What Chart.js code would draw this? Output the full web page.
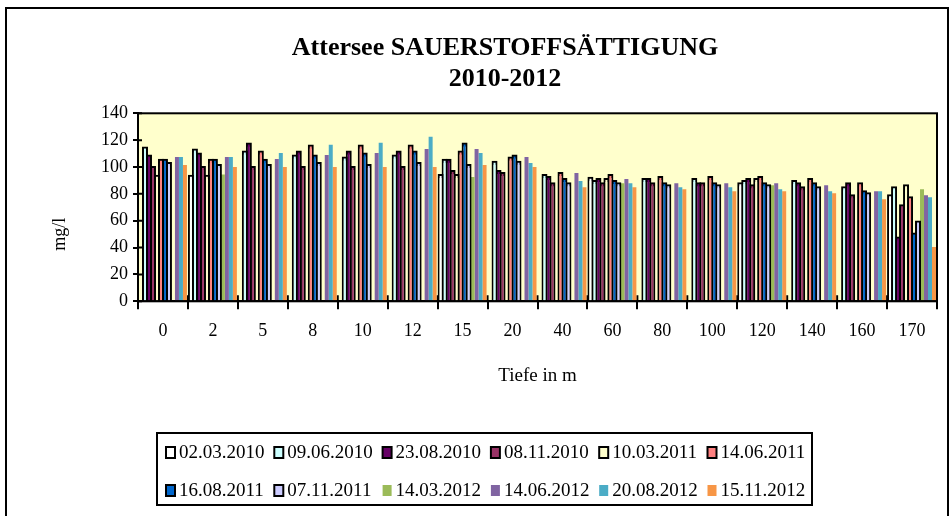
<!DOCTYPE html>
<html>
<head>
<meta charset="utf-8">
<script src="https://cdn.jsdelivr.net/npm/chart.js@4.4.1/dist/chart.umd.min.js"></script>
<style>
  html, body { margin: 0; padding: 0; background: #fff; }
  #wrap { width: 952px; height: 516px; }
</style>
</head>
<body>
<div id="wrap"><canvas id="oxygenChart" width="952" height="516"></canvas></div>
<script>
// depth categories (m)
const depths = ['0', '2', '5', '8', '10', '12', '15', '20', '40', '60', '80', '100', '120', '140', '160', '170'];

// oxygen saturation per sampling date (null = no bar)
const mar2010 = [null, 93.5, null, null, null, null, 94, null, null, 92, null, null, 88, null, null, 79];
const jun2010 = [114.5, 113, 111.5, 108.5, 107, 108.5, 105.5, 104, 94, 89.5, 91, 91, 89.5, 89.5, 85, 85];
const aug2010 = [108.5, 110, 117.5, 111.5, 111.5, 111.5, 105.5, 97, 92.5, 91, 91, 88, 91, 88, 88, 47.5];
const nov2010 = [100, 100, 100, 100, 100, 100, 97, 95.5, 88, 88, 88, 88, 86.5, 85, 79, 71.5];
const mar2011 = [93.5, 93.5, null, null, null, null, 94, null, null, 91, null, null, 91, null, null, 86.5];
const jun2011 = [105.5, 105.5, 111.5, 116, 116, 116, 111.5, 107, 95.5, 94, 92.5, 92.5, 92.5, 91, 88, 77.5];
const aug2011 = [105.5, 105.5, 105.5, 108.5, 110, 111.5, 117.5, 108.5, 91, 89.5, 88, 88, 88, 88, 82, 50.5];
const nov2011 = [103, 101.5, 101.5, 103, 101.5, 103, 101.5, 104, 88, 88, 86.5, 86.5, 86.5, 85, 80.5, 59.5];
const mar2012 = [null, 94.5, null, null, null, null, 92.5, null, null, 88, null, null, 86.5, null, null, 83.5];
const jun2012 = [107.5, 107.5, 106, 109, 110.5, 113.5, 113.5, 107.5, 95.5, 91, 88, 88, 88, 86.5, 82, 79];
const aug2012 = [107.5, 107.5, 110.5, 116.5, 118, 122.5, 110.5, 103, 89.5, 88, 85, 85, 83.5, 82, 82, 77.5];
const nov2012 = [101.5, 100, 100, 100, 100, 100, 101.5, 100, 85, 85, 83.5, 82, 82, 80.5, 76, 40.5];

const y_ticks = { min: 0, max: 140, step: 20 };

const serif = "'Liberation Serif', 'Times New Roman', serif";
Chart.defaults.font.family = serif;
Chart.defaults.color = '#000';

// excel style bars: black outline centred on the bar edge
function outlined(label, color, data){
  return {
    label: label, data: data,
    backgroundColor: color,
    borderColor: '#000',
    borderWidth: { top: 2, left: 2, right: 2, bottom: 0 },
    borderSkipped: 'start',
    inflateAmount: 1
  };
}
function plain(label, color, data){
  return { label: label, data: data, backgroundColor: color, borderWidth: 0, inflateAmount: 0 };
}

const plotFrame = {
  id: 'plotFrame',
  beforeDraw(chart){
    const ctx = chart.ctx, a = chart.chartArea;
    ctx.save();
    ctx.fillStyle = '#FFFFCC';
    ctx.fillRect(a.left, a.top, a.right - a.left, a.bottom - a.top);
    ctx.strokeStyle = '#000';
    ctx.lineWidth = 2;
    ctx.strokeRect(6, 8, 942, 530);
    ctx.restore();
  },
  beforeDatasetsDraw(chart){
    // inner half of the crossing tick marks
    const ctx = chart.ctx, a = chart.chartArea, x = chart.scales.x, y = chart.scales.y;
    ctx.save();
    ctx.strokeStyle = '#000';
    ctx.lineWidth = 2;
    ctx.beginPath();
    y.ticks.forEach((t, i) => {
      const py = y.getPixelForTick(i);
      ctx.moveTo(a.left, py); ctx.lineTo(a.left + 4, py);
    });
    for (let i = 0; i <= depths.length; i++){
      const px = x.getPixelForValue(i - 0.5);
      ctx.moveTo(px, a.bottom); ctx.lineTo(px, a.bottom - 6);
    }
    ctx.stroke();
    ctx.restore();
  },
  afterDatasetsDraw(chart){
    const ctx = chart.ctx, a = chart.chartArea;
    ctx.save();
    ctx.strokeStyle = '#000';
    ctx.lineWidth = 2;
    ctx.strokeRect(a.left, a.top, a.right - a.left, a.bottom - a.top);
    ctx.restore();
  }
};

const boxLegend = {
  id: 'boxLegend',
  afterDraw(chart){
    const ctx = chart.ctx;
    ctx.save();
    ctx.strokeStyle = '#000';
    ctx.lineWidth = 2;
    ctx.strokeRect(157, 433, 655, 72);
    ctx.font = '19px ' + serif;
    ctx.textBaseline = 'middle';
    chart.data.datasets.forEach((ds, i) => {
      const col = i % 6, row = Math.floor(i / 6);
      const bx = 166 + col * 108.3, cy = 452 + row * 38;
      ctx.fillStyle = ds.backgroundColor;
      ctx.fillRect(bx, cy - 5, 9, 11);
      if (ds.borderColor){
        ctx.lineWidth = 2;
        ctx.strokeRect(bx, cy - 5, 9, 11);
      }
      ctx.fillStyle = '#000';
      ctx.fillText(ds.label, bx + 13, cy + 1);
    });
    ctx.restore();
  }
};

const ctx = document.getElementById('oxygenChart').getContext('2d');
const myChart = new Chart(ctx, {
  type: 'bar',
  data: {
    labels: depths,
    datasets: [
      outlined('02.03.2010', '#FFFFFF', mar2010),
      outlined('09.06.2010', '#CCFFFF', jun2010),
      outlined('23.08.2010', '#660066', aug2010),
      outlined('08.11.2010', '#993366', nov2010),
      outlined('10.03.2011', '#FFFFCC', mar2011),
      outlined('14.06.2011', '#FF8080', jun2011),
      outlined('16.08.2011', '#0066CC', aug2011),
      outlined('07.11.2011', '#CCCCFF', nov2011),
      plain('14.03.2012', '#9BBB59', mar2012),
      plain('14.06.2012', '#8064A2', jun2012),
      plain('20.08.2012', '#4BACC6', aug2012),
      plain('15.11.2012', '#F79646', nov2012)
    ]
  },
  options: {
    responsive: false,
    animation: false,
    categoryPercentage: 0.96,
    barPercentage: 1.0,
    layout: { padding: { left: 73, right: 15, top: 10, bottom: 120.7 } },
    plugins: {
      legend: { display: false },
      tooltip: { enabled: false },
      title: {
        display: true,
        text: ['Attersee SAUERSTOFFSÄTTIGUNG', '2010-2012'],
        font: { size: 26, weight: 'bold', lineHeight: 1.2 },
        color: '#000',
        padding: { top: 22.4, bottom: 18.5 }
      }
    },
    scales: {
      x: {
        grid: { offset: true, drawOnChartArea: false, tickLength: 8, color: '#000', lineWidth: 2 },
        border: { color: '#000', width: 2 },
        ticks: { font: { size: 18 }, padding: 11, maxRotation: 0, autoSkip: false },
        title: { display: true, text: 'Tiefe in m', font: { size: 19 }, padding: { top: 0, bottom: 8 } },
        afterFit: (s) => { s.height = 94; }
      },
      y: {
        min: y_ticks.min,
        max: y_ticks.max,
        ticks: { stepSize: y_ticks.step, font: { size: 18 }, padding: 5 },
        grid: { drawOnChartArea: false, tickLength: 5, color: '#000', lineWidth: 2 },
        border: { color: '#000', width: 2 },
        // trailing em spaces push the rotated label down, as in the original
        title: { display: true, text: 'mg/l\u2003\u2003\u2003', font: { size: 18 }, padding: { top: -24, bottom: 0 } },
        afterFit: (s) => { s.width = 65; }
      }
    }
  },
  plugins: [plotFrame, boxLegend]
});
</script>
</body>
</html>
